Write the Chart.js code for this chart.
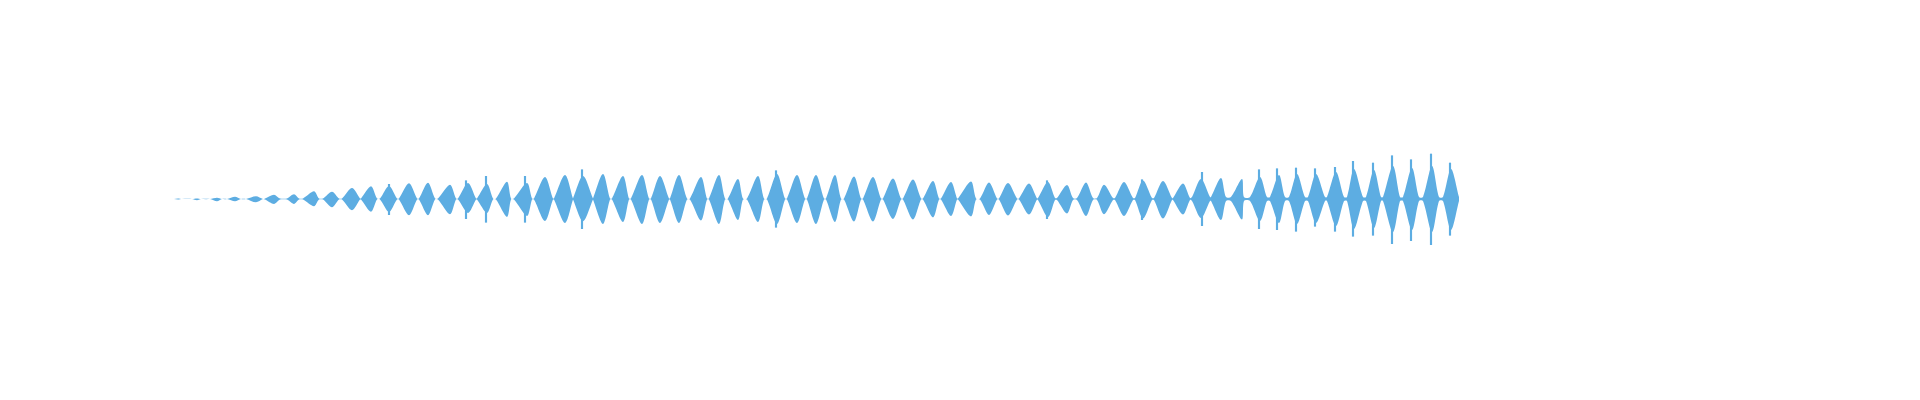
<!DOCTYPE html>
<html>
<head>
<meta charset="utf-8">
<script src="https://cdn.jsdelivr.net/npm/chart.js@4"></script>
<style>
    body { margin: 0; background: #fff; }
    #wrap { width: 1920px; height: 400px; }
</style>
</head>
<body>
<div id="wrap"><canvas id="wave"></canvas></div>
<script>
// frame index where each syllable burst starts, peaks and ends
let burstStart = [174, 192, 210, 227, 246, 265, 287, 303, 323, 342, 361, 380, 399, 419, 438, 458, 477, 496, 514, 534,
    554, 573, 593, 612, 631, 651, 670, 690, 709, 728, 747, 767, 787, 807, 826, 844, 863, 883, 903, 923,
    941, 958, 980, 999, 1019, 1038, 1057, 1077, 1097, 1115, 1135, 1154, 1173, 1192, 1211, 1231, 1250, 1270, 1289, 1308,
    1327, 1347, 1366, 1383, 1403, 1423, 1443];
let burstPeak = [178, 197, 217, 235, 256, 274, 294, 314, 332, 352, 371, 389, 409, 428, 450, 468, 487, 507, 527, 545,
    565, 583, 603, 623, 642, 660, 679, 701, 719, 738, 758, 777, 797, 816, 835, 854, 873, 893, 913, 933,
    951, 971, 989, 1008, 1029, 1048, 1067, 1086, 1104, 1124, 1143, 1163, 1183, 1201, 1221, 1242, 1260, 1279, 1297, 1316,
    1336, 1354, 1374, 1393, 1412, 1432, 1451];
let burstEnd = [182, 201, 222, 241, 263, 280, 299, 319, 339, 360, 377, 397, 417, 435, 456, 476, 493, 511, 532, 553,
    573, 593, 610, 629, 649, 669, 687, 707, 725, 743, 764, 785, 805, 824, 841, 861, 881, 901, 921, 939,
    957, 976, 997, 1017, 1037, 1055, 1073, 1093, 1113, 1133, 1152, 1172, 1190, 1210, 1226, 1244, 1267, 1285, 1305, 1325,
    1344, 1363, 1381, 1400, 1419, 1439, 1459];

// envelope amplitude (positive / negative side) at each burst peak
let burstTop = [0.6, 0.6, 1.3, 2.3, 2.7, 4.3, 4.7, 7.7, 7.3, 11, 12.7, 13, 15.7, 16.3, 14.3, 16, 15, 17.3, 16, 22,
    24, 23, 25, 23, 24, 23, 24, 22, 24, 20, 23, 25, 24, 24, 24, 22.5, 22, 20.5, 19.5, 18,
    17, 17.5, 16.5, 16, 15.5, 17, 14, 16.5, 14.3, 17, 18.5, 18, 15.5, 20, 21, 20, 22, 24, 25, 25,
    27, 30, 29, 33, 31, 33, 30];
let burstBottom = [0.6, 1.2, 2.3, 2.3, 3.3, 5, 5, 7.3, 8.3, 11.3, 12.7, 13, 16.3, 16.3, 15.3, 14, 14, 18, 17, 22,
    24, 22.3, 25, 23, 25, 24, 24, 21.5, 25, 21, 23, 25, 24, 25, 23, 22.5, 22.5, 20, 20.5, 18.5,
    17, 17.5, 16, 16.5, 15.5, 18, 14.5, 17, 15.3, 17, 19.5, 19.5, 15.5, 19, 21, 20.5, 22, 24, 25, 24,
    27, 30, 29, 33, 31, 33, 31];
// residual level between bursts
let gapLevel = [0, 0, 0, 0, 0, 0.6, 0.6, 0.6, 0.6, 0.6, 0.6, 0.6, 0.6, 0.6, 0.6, 0.6, 0.6, 0.6, 0.6, 0.6,
    0.6, 0.6, 0.6, 0.6, 0.6, 0.6, 0.6, 0.6, 0.6, 0.6, 0.6, 0.6, 0.6, 0.6, 0.6, 0.6, 0.6, 0.6, 0.6, 0.6,
    0.6, 0.6, 0.6, 0.6, 0.6, 1, 1, 1, 1, 1, 1, 1, 1, 2, 2, 2, 2, 2, 2, 2,
    2, 2, 2, 2, 2, 2, 2];

// single-sample clicks that stick out of the envelope
let spikeFrame = [389, 466, 486, 525, 582, 776, 1047, 1142, 1202, 1259, 1277, 1296, 1315, 1335, 1353, 1373, 1392, 1411, 1431, 1450];
let spikeTop = [14.7, 18.3, 22.7, 22.7, 29.3, 28.3, 18.3, 19.3, 26.7, 29.3, 30.3, 31, 30.3, 31.7, 37.7, 36, 43.3, 39.3, 45, 36];
let spikeBottom = [15.7, 19.7, 23.3, 23.3, 29.7, 28.3, 19.7, 20.7, 26.7, 29.7, 30.7, 32.3, 27.3, 32.3, 37.3, 36.3, 44.7, 41.7, 45.7, 36.3];

let blue = "#5DADE2";

let upper = [], lower = [];
burstStart.forEach((s, i) => {
    upper.push({ x: s, y: gapLevel[i] });
    upper.push({ x: burstPeak[i], y: burstTop[i] });
    upper.push({ x: burstEnd[i], y: gapLevel[i] });
    lower.push({ x: s, y: -gapLevel[i] });
    lower.push({ x: burstPeak[i], y: -burstBottom[i] });
    lower.push({ x: burstEnd[i], y: -gapLevel[i] });
});
let spikes = spikeFrame.map((f, i) => ({ x: f, y: [-spikeBottom[i], spikeTop[i]] }));

let ctx = document.getElementById("wave").getContext("2d");
let chart = new Chart(ctx, {
    data: {
        datasets: [
            {
                type: "line",
                data: upper,
                borderColor: "transparent",
                borderWidth: 0,
                backgroundColor: blue,
                pointRadius: 0,
                tension: 0.3,
                fill: "+1"
            },
            {
                type: "line",
                data: lower,
                borderColor: "transparent",
                borderWidth: 0,
                pointRadius: 0,
                tension: 0.3,
                fill: false
            },
            {
                type: "bar",
                data: spikes,
                backgroundColor: blue,
                barThickness: 1.5
            }
        ]
    },
    options: {
        responsive: true,
        maintainAspectRatio: false,
        animation: false,
        layout: { padding: 0 },
        plugins: { legend: { display: false }, tooltip: { enabled: false } },
        scales: {
            x: { type: "linear", min: 0, max: 1920, offset: false, display: false },
            y: { min: -201, max: 199, display: false }
        }
    }
});
</script>
</body>
</html>
